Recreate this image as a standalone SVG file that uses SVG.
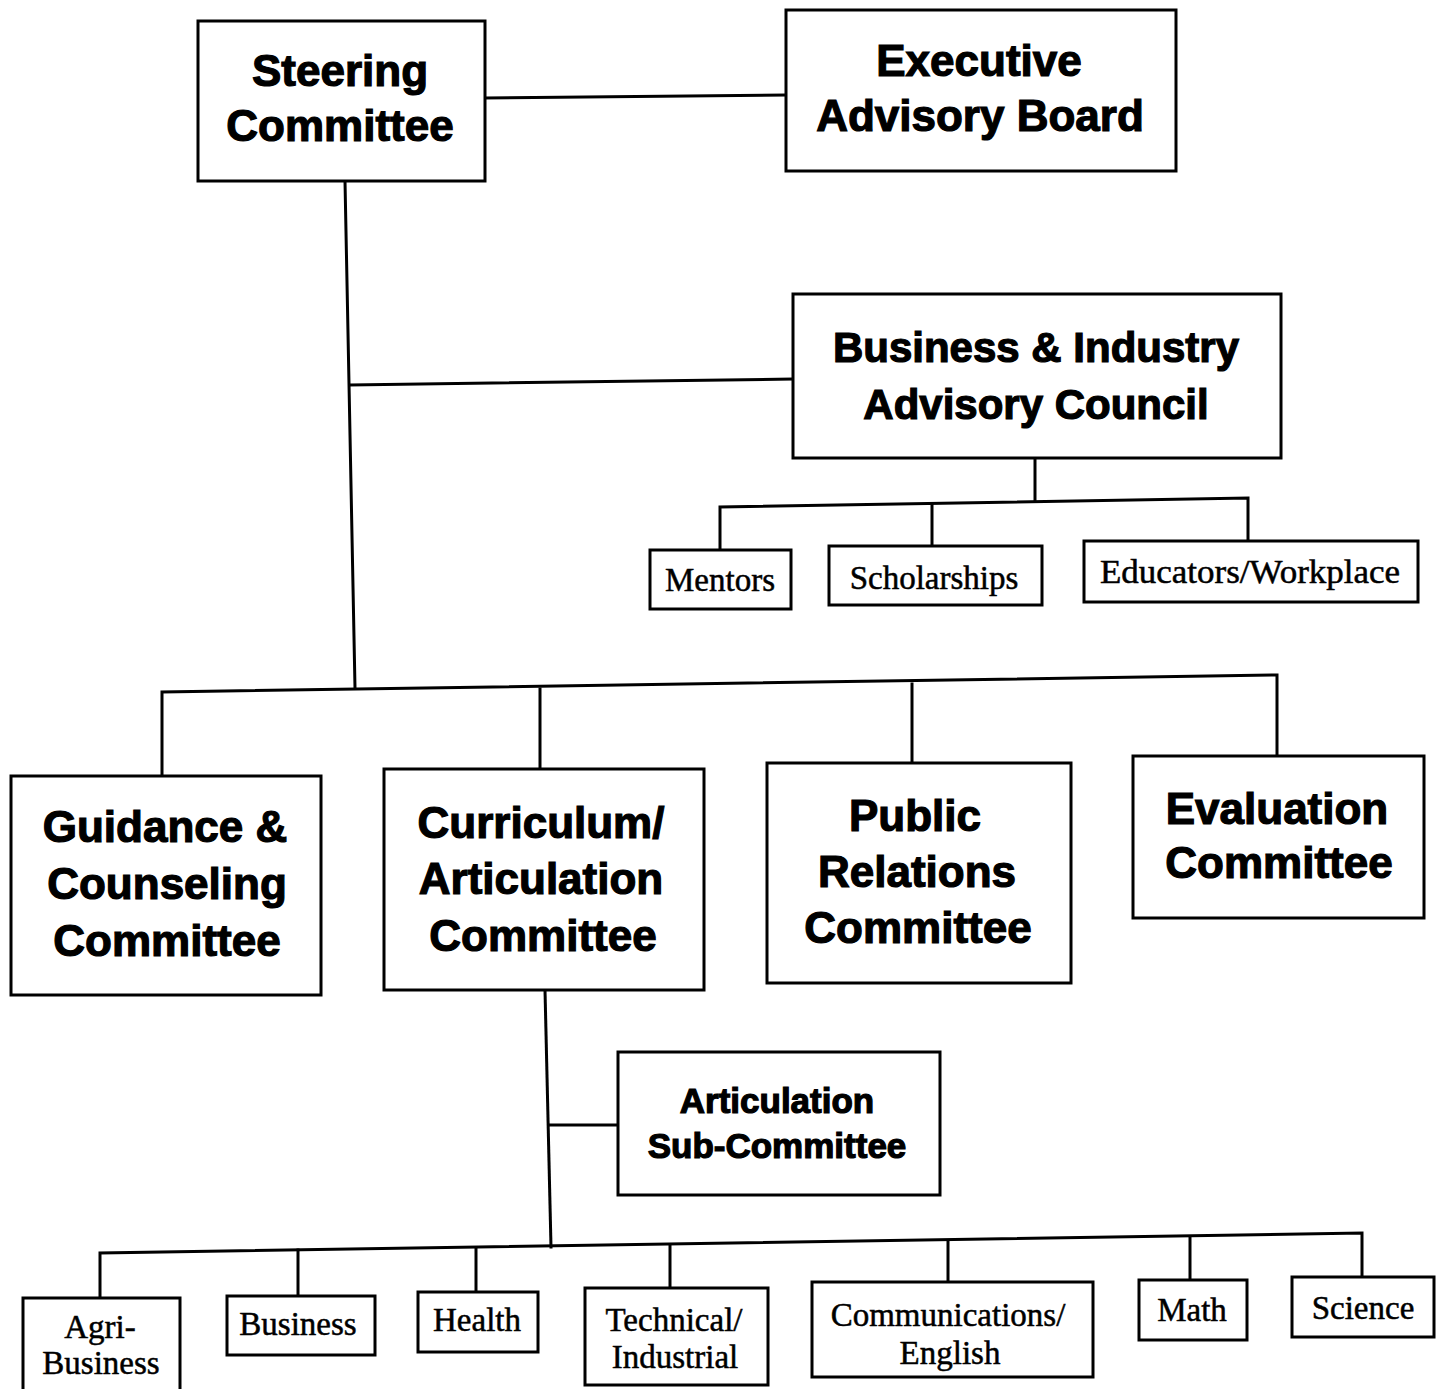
<svg xmlns="http://www.w3.org/2000/svg" width="1439" height="1389" viewBox="0 0 1439 1389">
<style>
.box{fill:#fff;stroke:#000;stroke-width:3}
.ln{fill:none;stroke:#000;stroke-width:3;stroke-linecap:square}
.h{font-family:"Liberation Sans",Arial,sans-serif;font-weight:bold;font-size:44px;text-anchor:middle;fill:#000;stroke:#000;stroke-width:1.2}
.s{font-family:"Liberation Serif","Times New Roman",serif;font-size:33px;text-anchor:middle;fill:#000;stroke:#000;stroke-width:0.5}
</style>
<rect width="1439" height="1389" fill="#fff"/>
<g id="connectors">
<path class="ln" d="M485 98 L785 95"/>
<path class="ln" d="M345 181 L355 688"/>
<path class="ln" d="M350 385 L792 379"/>
<path class="ln" d="M1035 458 L1035 500"/>
<path class="ln" d="M720 550 L720 507 L1248 498 L1248 540"/>
<path class="ln" d="M932 505 L932 545"/>
<path class="ln" d="M162 776 L162 692 L1277 675 L1277 757"/>
<path class="ln" d="M540 689 L540 770"/>
<path class="ln" d="M912 684 L912 762"/>
<path class="ln" d="M545 990 L551 1247"/>
<path class="ln" d="M549 1125 L618 1125"/>
<path class="ln" d="M100 1298 L100 1253 L1362 1233 L1362 1276"/>
<path class="ln" d="M298 1250 L298 1296"/>
<path class="ln" d="M476 1249 L476 1292"/>
<path class="ln" d="M670 1246 L670 1287"/>
<path class="ln" d="M948 1241 L948 1281"/>
<path class="ln" d="M1190 1237 L1190 1279"/>
</g>
<g id="steering"><rect class="box" x="198" y="21" width="287" height="160"/><text class="h" x="340" y="86">Steering</text><text class="h" x="340" y="141">Committee</text></g>
<g id="executive"><rect class="box" x="786" y="10" width="390" height="161"/><text class="h" x="979" y="76">Executive</text><text class="h" x="980" y="131">Advisory Board</text></g>
<g id="biac"><rect class="box" x="793" y="294" width="488" height="164"/><text class="h" x="1036" y="362" style="font-size:42px">Business &amp; Industry</text><text class="h" x="1036" y="419" style="font-size:42px">Advisory Council</text></g>
<g id="mentors"><rect class="box" x="650" y="550" width="141" height="59"/><text class="s" x="720" y="591">Mentors</text></g>
<g id="scholarships"><rect class="box" x="829" y="546" width="213" height="59"/><text class="s" x="934" y="589">Scholarships</text></g>
<g id="educators"><rect class="box" x="1084" y="541" width="334" height="61"/><text class="s" x="1250" y="583" textLength="300" lengthAdjust="spacingAndGlyphs">Educators/Workplace</text></g>
<g id="guidance"><rect class="box" x="11" y="776" width="310" height="219"/><text class="h" x="165" y="842">Guidance &amp;</text><text class="h" x="167" y="899">Counseling</text><text class="h" x="167" y="956">Committee</text></g>
<g id="curriculum"><rect class="box" x="384" y="769" width="320" height="221"/><text class="h" x="541" y="838">Curriculum/</text><text class="h" x="541" y="894">Articulation</text><text class="h" x="543" y="951">Committee</text></g>
<g id="public-relations"><rect class="box" x="767" y="763" width="304" height="220"/><text class="h" x="915" y="831">Public</text><text class="h" x="917" y="887">Relations</text><text class="h" x="918" y="943">Committee</text></g>
<g id="evaluation"><rect class="box" x="1133" y="756" width="291" height="162"/><text class="h" x="1277" y="824">Evaluation</text><text class="h" x="1279" y="878">Committee</text></g>
<g id="articulation-sub"><rect class="box" x="618" y="1052" width="322" height="143"/><text class="h" x="777" y="1113" style="font-size:35px">Articulation</text><text class="h" x="777" y="1158" style="font-size:35px">Sub-Committee</text></g>
<g id="agri-business"><rect class="box" x="23" y="1298" width="157" height="100"/><text class="s" x="100" y="1338">Agri-</text><text class="s" x="101" y="1374">Business</text></g>
<g id="business"><rect class="box" x="227" y="1296" width="148" height="59"/><text class="s" x="298" y="1335">Business</text></g>
<g id="health"><rect class="box" x="418" y="1292" width="120" height="60"/><text class="s" x="477" y="1331">Health</text></g>
<g id="technical"><rect class="box" x="585" y="1288" width="183" height="97"/><text class="s" x="674" y="1331">Technical/</text><text class="s" x="675" y="1368">Industrial</text></g>
<g id="communications"><rect class="box" x="812" y="1282" width="281" height="95"/><text class="s" x="948" y="1326">Communications/</text><text class="s" x="950" y="1364">English</text></g>
<g id="math"><rect class="box" x="1139" y="1280" width="108" height="60"/><text class="s" x="1192" y="1321">Math</text></g>
<g id="science"><rect class="box" x="1292" y="1277" width="142" height="60"/><text class="s" x="1363" y="1319">Science</text></g>
</svg>
